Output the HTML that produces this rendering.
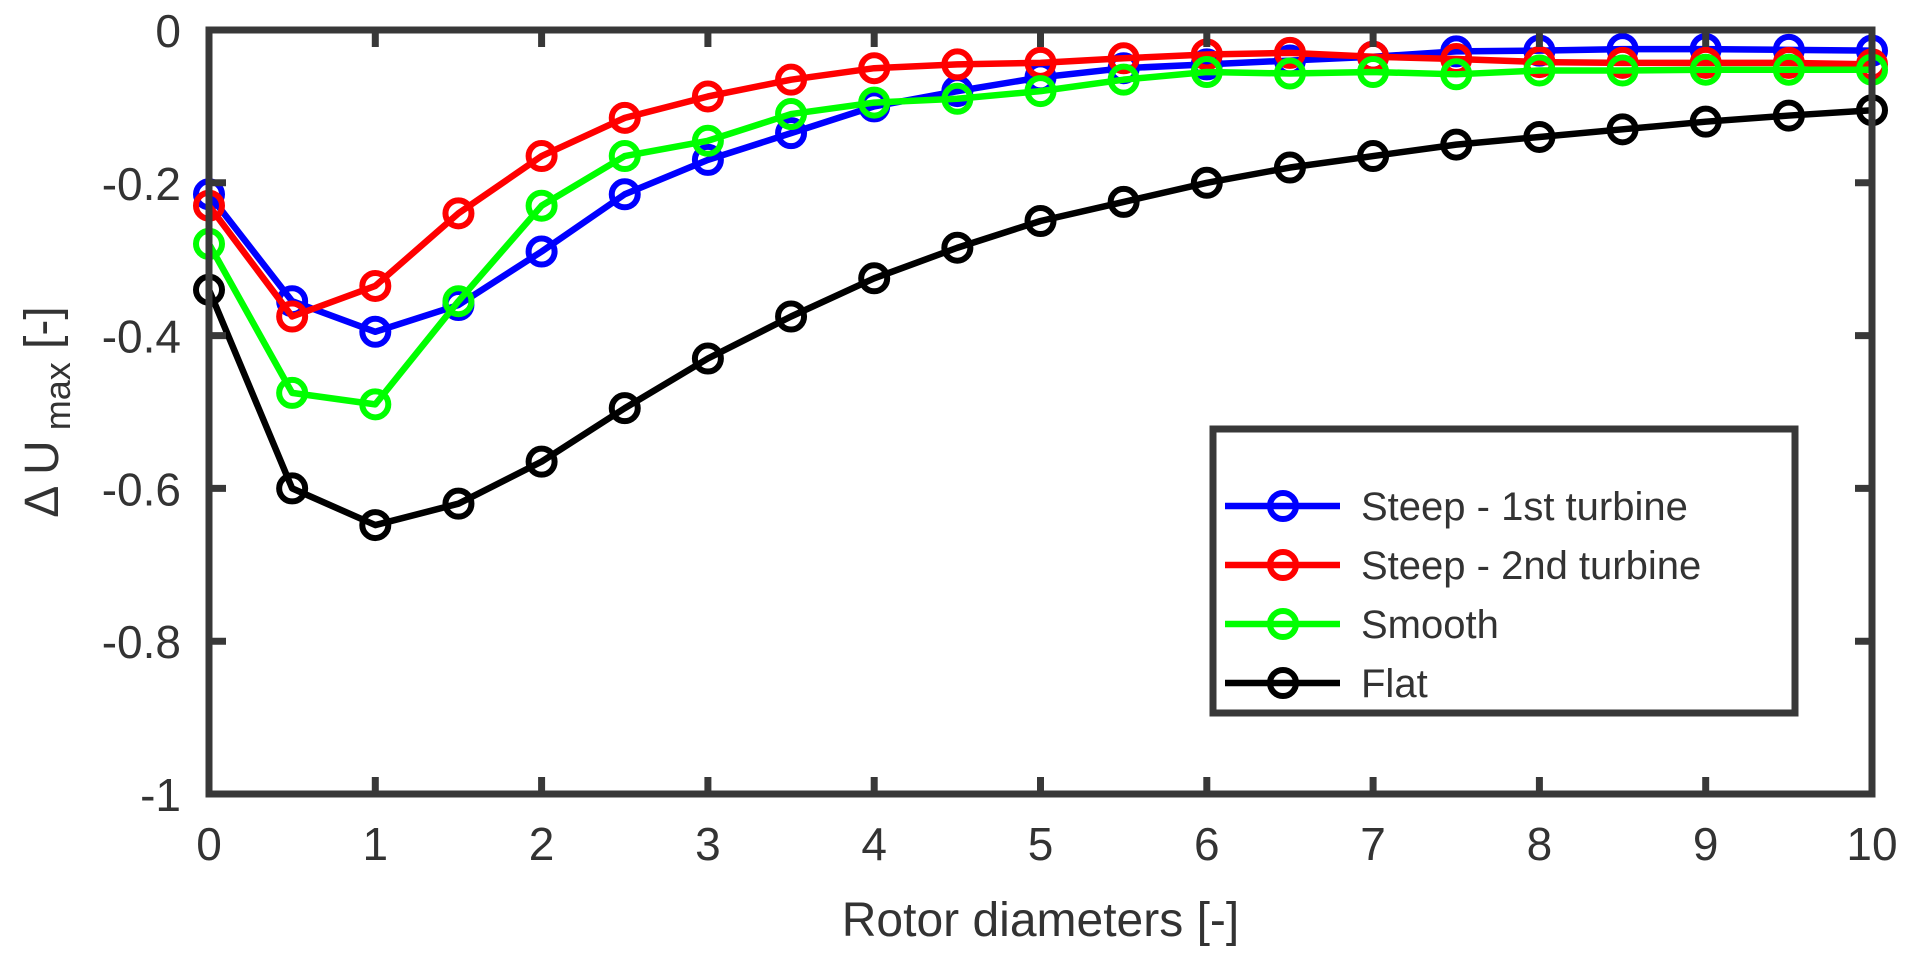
<!DOCTYPE html>
<html><head><meta charset="utf-8"><style>
html,body{margin:0;padding:0;background:#fff;}
svg text{font-family:"Liberation Sans",sans-serif;fill:#333;}
</style></head><body>
<svg id="chart" width="1911" height="965" viewBox="0 0 1911 965" xmlns="http://www.w3.org/2000/svg">
<g id="series"></g>
<g id="axes"></g>
<g id="legend"></g>
</svg>
<script>
const xValues=[0,0.5,1,1.5,2,2.5,3,3.5,4,4.5,5,5.5,6,6.5,7,7.5,8,8.5,9,9.5,10];
const steep1=[-0.215,-0.355,-0.395,-0.36,-0.29,-0.215,-0.17,-0.135,-0.10,-0.08,-0.062,-0.05,-0.045,-0.04,-0.035,-0.028,-0.027,-0.025,-0.025,-0.026,-0.027];
const steep2=[-0.23,-0.375,-0.335,-0.24,-0.165,-0.115,-0.087,-0.065,-0.05,-0.045,-0.043,-0.037,-0.032,-0.03,-0.035,-0.038,-0.042,-0.043,-0.043,-0.043,-0.045];
const smooth=[-0.28,-0.475,-0.49,-0.355,-0.23,-0.165,-0.145,-0.11,-0.095,-0.09,-0.08,-0.065,-0.055,-0.057,-0.055,-0.058,-0.053,-0.053,-0.052,-0.052,-0.052];
const flat=[-0.34,-0.60,-0.648,-0.62,-0.565,-0.495,-0.43,-0.375,-0.325,-0.285,-0.25,-0.225,-0.2,-0.18,-0.165,-0.15,-0.14,-0.13,-0.12,-0.112,-0.105];
const xTicks=[0,1,2,3,4,5,6,7,8,9,10];
const yTicks=[0,-0.2,-0.4,-0.6,-0.8,-1];
const yTickLabels=["0","-0.2","-0.4","-0.6","-0.8","-1"];
const seriesNames=["Steep - 1st  turbine","Steep - 2nd  turbine","Smooth","Flat"];

const L=209,R=1872,T=30,B=794;
const sx=v=>L+(v-0)/(10-0)*(R-L);
const sy=v=>T+(0-v)/(0-(-1))*(B-T);
const NS="http://www.w3.org/2000/svg";
function mk(tag,attrs,parent){const e=document.createElementNS(NS,tag);for(const k in attrs)e.setAttribute(k,attrs[k]);parent.appendChild(e);return e;}
const sg=document.getElementById('series'),ag=document.getElementById('axes'),lg=document.getElementById('legend');
const series=[[steep1,"#0000ff","steep-1st-turbine"],[steep2,"#ff0000","steep-2nd-turbine"],[smooth,"#00ff00","smooth"],[flat,"#000000","flat"]];
series.forEach(([d,c,n])=>{
  const g=mk('g',{},sg);
  
  
  const pl=mk('polyline',{points:d.map((v,i)=>sx(xValues[i])+','+sy(v)).join(' '),fill:'none',stroke:c,'stroke-width':6.5,'stroke-linejoin':'round'},g);
  
  
  d.forEach((v,i)=>{
    const m=mk('circle',{cx:sx(xValues[i]),cy:sy(v),r:13,fill:'none',stroke:c,'stroke-width':6},g);
    
    
  });
});
const box=mk('rect',{x:L,y:T,width:R-L,height:B-T,fill:'none',stroke:'#383838','stroke-width':7},ag);


xTicks.forEach(v=>{
  const x=sx(v);
  mk('line',{x1:x,y1:B,x2:x,y2:B-17,stroke:'#383838','stroke-width':7},ag);
  mk('line',{x1:x,y1:T,x2:x,y2:T+17,stroke:'#383838','stroke-width':7},ag);
  const t=mk('text',{x:x,y:B+66,'text-anchor':'middle','font-size':46},ag);
  t.textContent=String(v);
  
  
});
yTicks.forEach((v,i)=>{
  const y=sy(v);
  mk('line',{x1:L,y1:y,x2:L+17,y2:y,stroke:'#383838','stroke-width':7},ag);
  mk('line',{x1:R,y1:y,x2:R-17,y2:y,stroke:'#383838','stroke-width':7},ag);
  const t=mk('text',{x:L-28,y:y+17,'text-anchor':'end','font-size':46},ag);
  t.textContent=yTickLabels[i];
  
  
});
const xt=mk('text',{x:(L+R)/2,y:936,'text-anchor':'middle','font-size':48},ag);
xt.textContent="Rotor  diameters [-]";


const yt=mk('text',{transform:'translate(58,412) rotate(-90)','text-anchor':'middle','font-size':48},ag);
yt.innerHTML='Δ U<tspan font-size="36" dy="12"> max</tspan><tspan dy="-12">  [-]</tspan>';


const lb=mk('rect',{x:1213,y:429,width:582,height:284,fill:'#fff',stroke:'#383838','stroke-width':7},lg);


const ly=[506,565,624,683];
series.forEach(([d,c,n],i)=>{
  const g=mk('g',{},lg);
  
  
  mk('line',{x1:1225,y1:ly[i],x2:1340,y2:ly[i],stroke:c,'stroke-width':6.5},g);
  mk('circle',{cx:1283,cy:ly[i],r:13,fill:'none',stroke:c,'stroke-width':6},g);
  const t=mk('text',{x:1361,y:ly[i]+14,'font-size':40},g);
  t.textContent=seriesNames[i];
});
</script>
</body></html>
